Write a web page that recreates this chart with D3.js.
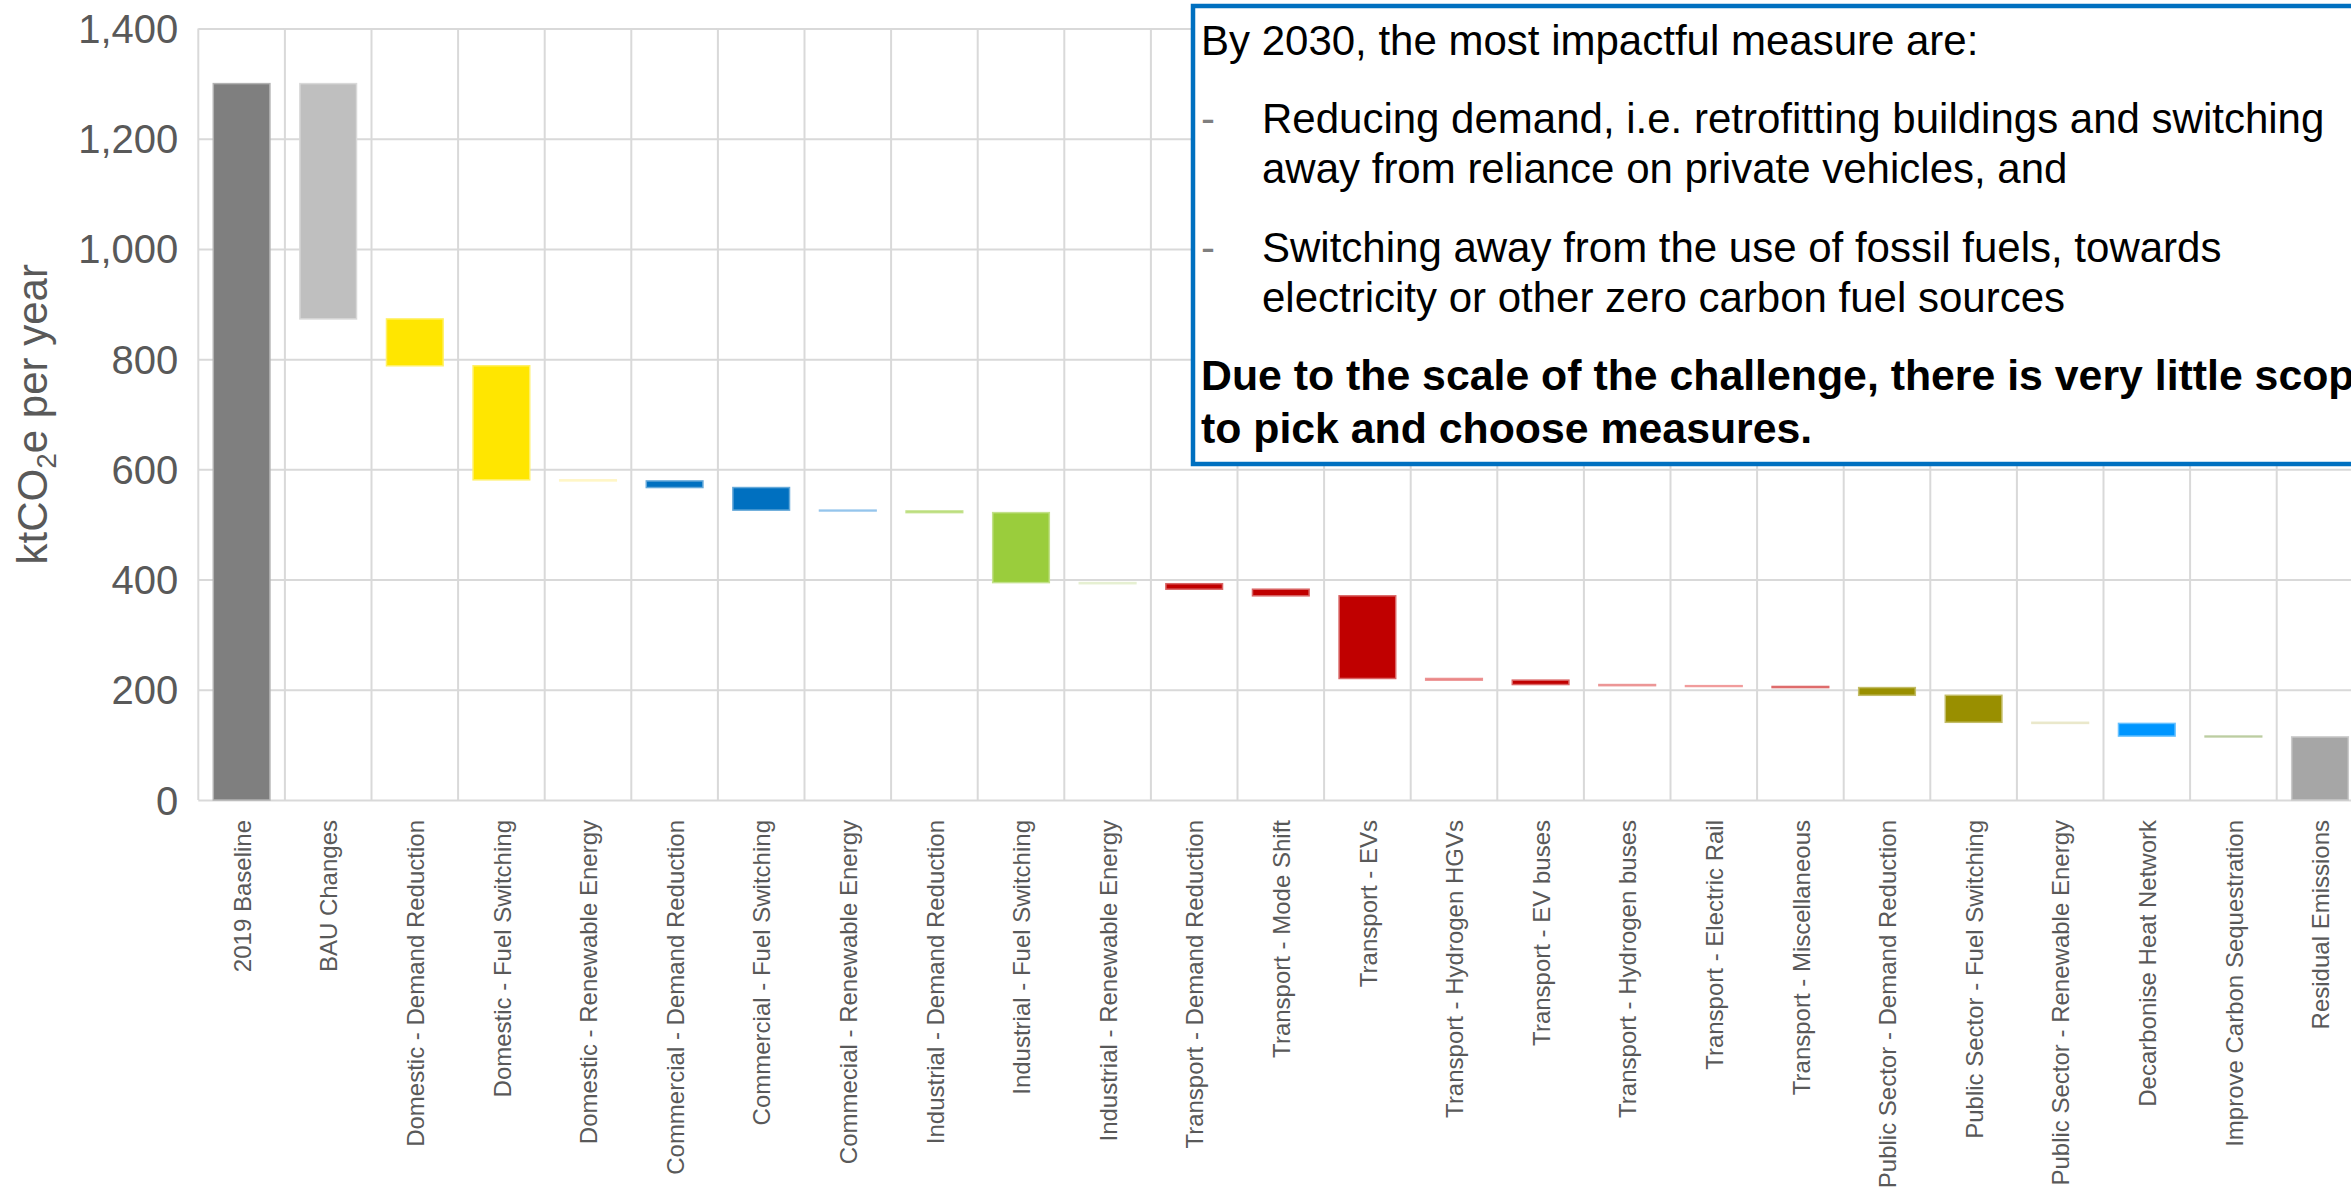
<!DOCTYPE html>
<html>
<head>
<meta charset="utf-8">
<script src="https://cdn.jsdelivr.net/npm/d3@7"></script>
<style>
  body { margin: 0; background: #fff; }
  svg { display: block; font-family: "Liberation Sans", Arial, sans-serif; }
</style>
</head>
<body>
<div id="chart"></div>
<script>
const width = 2351;
const height = 1187;

// Categories in waterfall order
const categories = [
    "2019 Baseline", "BAU Changes",
    "Domestic - Demand Reduction", "Domestic - Fuel Switching", "Domestic - Renewable Energy",
    "Commercial - Demand Reduction", "Commercial - Fuel Switching", "Commecial - Renewable Energy",
    "Industrial - Demand Reduction", "Industrial - Fuel Switching", "Industrial - Renewable Energy",
    "Transport - Demand Reduction", "Transport - Mode Shift", "Transport - EVs",
    "Transport - Hydrogen HGVs", "Transport - EV buses", "Transport - Hydrogen buses",
    "Transport - Electric Rail", "Transport - Miscellaneous",
    "Public Sector - Demand Reduction", "Public Sector - Fuel Switching", "Public Sector - Renewable Energy",
    "Decarbonise Heat Network", "Improve Carbon Sequestration", "Residual Emissions"
];

// Starting and ending totals (ktCO2e per year)
const baselineValue = 1300;
const residualValue = 114.5;

// Reductions for each step between baseline and residual
const reductions = [427, 85, 207, 2, 12, 41, 1.5, 3, 127, 2, 10, 12, 150, 3, 8, 2, 1.5, 2, 14, 49, 2, 23, 1.5];

const yTicks = [0, 200, 400, 600, 800, 1000, 1200, 1400];

const noteLines = [
    "By 2030, the most impactful measure are:",
    "Reducing demand, i.e. retrofitting buildings and switching",
    "away from reliance on private vehicles, and",
    "Switching away from the use of fossil fuels, towards",
    "electricity or other zero carbon fuel sources",
    "Due to the scale of the challenge, there is very little scope",
    "to pick and choose measures."
];

// Colours by category
const colorOf = {
    "2019 Baseline": "#7f7f7f",
    "BAU Changes": "#bfbfbf",
    "Domestic - Demand Reduction": "#ffe600",
    "Domestic - Fuel Switching": "#ffe600",
    "Domestic - Renewable Energy": "#fff0a0",
    "Commercial - Demand Reduction": "#0070c0",
    "Commercial - Fuel Switching": "#0070c0",
    "Commecial - Renewable Energy": "#4f9ee0",
    "Industrial - Demand Reduction": "#9acd3c",
    "Industrial - Fuel Switching": "#9acd3c",
    "Industrial - Renewable Energy": "#d6e6b4",
    "Transport - Demand Reduction": "#c00000",
    "Transport - Mode Shift": "#c00000",
    "Transport - EVs": "#c00000",
    "Transport - Hydrogen HGVs": "#e04a4a",
    "Transport - EV buses": "#c00000",
    "Transport - Hydrogen buses": "#e05050",
    "Transport - Electric Rail": "#e85a5a",
    "Transport - Miscellaneous": "#c80a0a",
    "Public Sector - Demand Reduction": "#998f00",
    "Public Sector - Fuel Switching": "#998f00",
    "Public Sector - Renewable Energy": "#dcd8a8",
    "Decarbonise Heat Network": "#0096ff",
    "Improve Carbon Sequestration": "#8fab62",
    "Residual Emissions": "#a6a6a6"
};

// Build waterfall segments
let running = baselineValue;
const bars = [{ name: categories[0], top: baselineValue, bottom: 0 }];
reductions.forEach((r, i) => {
    bars.push({ name: categories[i + 1], top: running, bottom: running - r });
    running -= r;
});
bars.push({ name: categories[categories.length - 1], top: residualValue, bottom: 0 });

const plotLeft = 198.3, plotRight = 2363.3, plotTop = 28.5, plotBottom = 800;

const x = d3.scaleBand()
    .domain(categories)
    .range([plotLeft, plotRight])
    .paddingInner(0.346)
    .paddingOuter(0.173);

const y = d3.scaleLinear()
    .domain([0, 1400])
    .range([plotBottom, plotTop]);

const svg = d3.select("#chart").append("svg")
    .attr("width", width)
    .attr("height", height);

// Horizontal gridlines + y labels
const yAxis = svg.append("g")
    .attr("transform", `translate(${plotLeft},0)`)
    .call(d3.axisLeft(y).tickValues(yTicks).tickSize(-(plotRight - plotLeft)).tickPadding(20).tickFormat(d3.format(",")));
yAxis.select(".domain").remove();
yAxis.selectAll("line").attr("stroke", "#d9d9d9").attr("stroke-width", 2);
yAxis.selectAll("text")
    .attr("fill", "#595959")
    .style("font-size", "40px")
    .attr("dy", "0.35em");

// Vertical gridlines at category boundaries
const gap = (x.step() - x.bandwidth()) / 2;
const bounds = categories.map(c => x(c) - gap).concat([x(categories[categories.length - 1]) + x.bandwidth() + gap]);
svg.append("g").selectAll("line")
    .data(bounds)
    .enter().append("line")
    .attr("x1", d => d).attr("x2", d => d)
    .attr("y1", plotTop).attr("y2", plotBottom)
    .attr("stroke", "#d9d9d9")
    .attr("stroke-width", 2);

// Bars
svg.append("g").selectAll("rect")
    .data(bars)
    .enter().append("rect")
    .attr("x", d => x(d.name))
    .attr("width", x.bandwidth())
    .attr("y", d => y(d.top))
    .attr("height", d => y(d.bottom) - y(d.top))
    .attr("fill", d => colorOf[d.name])
    .attr("stroke", d => d3.interpolateRgb(colorOf[d.name], "#ffffff")(0.4))
    .attr("stroke-width", 1.5);

// Category labels
const xAxis = svg.append("g")
    .attr("transform", `translate(0,${plotBottom})`)
    .call(d3.axisBottom(x).tickSize(0));
xAxis.select(".domain").remove();
xAxis.selectAll("text")
    .attr("transform", "rotate(-90)")
    .attr("x", -20)
    .attr("y", 0)
    .attr("dy", "0.38em")
    .attr("fill", "#595959")
    .style("text-anchor", "end")
    .style("font-size", "24px");

// Y axis title
const yTitle = svg.append("text")
    .attr("transform", `translate(47,${(plotTop + plotBottom) / 2}) rotate(-90)`)
    .attr("text-anchor", "middle")
    .attr("fill", "#595959")
    .style("font-size", "42px");
yTitle.append("tspan").text("ktCO");
yTitle.append("tspan").attr("dy", 9).style("font-size", "28px").text("2");
yTitle.append("tspan").attr("dy", -9).text("e per year");

// Annotation box (runs past the right edge, as in the original)
svg.append("rect")
    .attr("x", 1193)
    .attr("y", 6)
    .attr("width", 1300)
    .attr("height", 458)
    .attr("fill", "#fff")
    .attr("stroke", "#0070c0")
    .attr("stroke-width", 4.5);

const note = svg.append("g").style("font-size", "42px").attr("fill", "#000");
note.append("text").attr("x", 1201).attr("y", 55).text(noteLines[0]);
note.append("text").attr("x", 1201).attr("y", 133).attr("fill", "#7f7f7f").text("-");
note.append("text").attr("x", 1262).attr("y", 133).text(noteLines[1]);
note.append("text").attr("x", 1262).attr("y", 183).text(noteLines[2]);
note.append("text").attr("x", 1201).attr("y", 262).attr("fill", "#7f7f7f").text("-");
note.append("text").attr("x", 1262).attr("y", 262).text(noteLines[3]);
note.append("text").attr("x", 1262).attr("y", 312).text(noteLines[4]);
note.append("text").attr("x", 1201).attr("y", 390).style("font-weight", "bold").style("font-size", "42.8px").text(noteLines[5]);
note.append("text").attr("x", 1201).attr("y", 443).style("font-weight", "bold").style("font-size", "42.8px").text(noteLines[6]);
</script>
</body>
</html>
